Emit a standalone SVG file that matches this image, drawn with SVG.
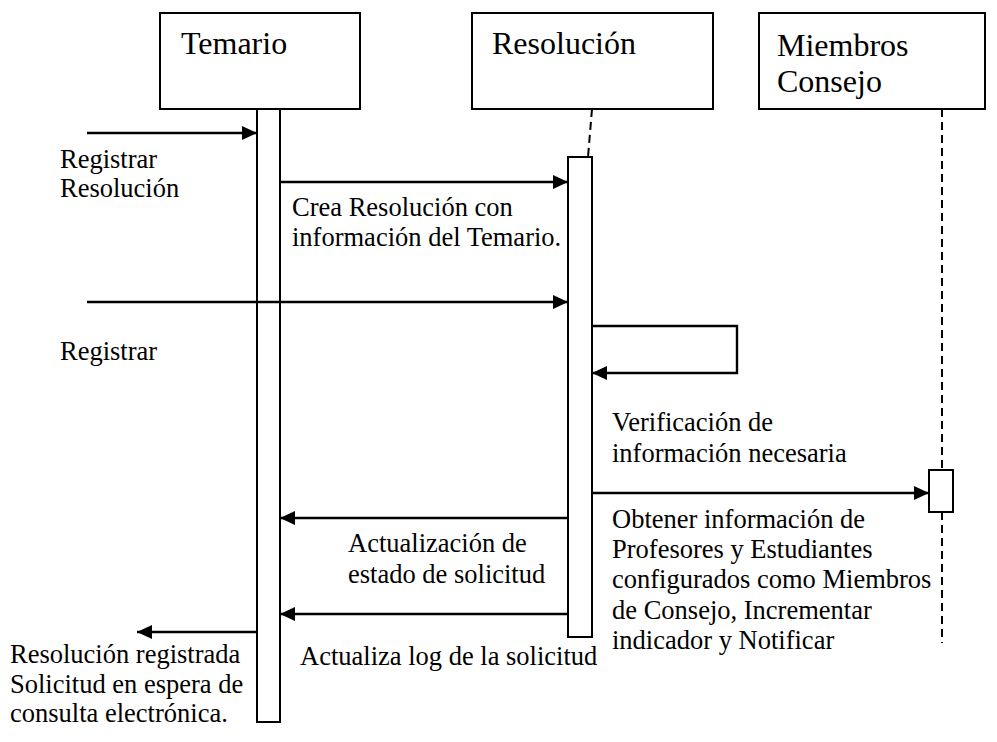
<svg xmlns="http://www.w3.org/2000/svg" width="997" height="742" viewBox="0 0 997 742">
<style>
.box{fill:#fff;stroke:#000;stroke-width:2}
.bar{fill:#fff;stroke:#000;stroke-width:2}
.life{stroke:#000;stroke-width:2;stroke-dasharray:8,5;fill:none}
.msg{stroke:#000;stroke-width:2.4;fill:none}
text{font-family:'Liberation Serif','Times New Roman',Times,serif;fill:#000}
.hd{font-size:32px}
.lb{font-size:26.5px}
</style>
<defs>
<marker id="ah" markerUnits="userSpaceOnUse" markerWidth="15" markerHeight="15" refX="15" refY="7" orient="auto">
<path d="M0,0 L15,7 L0,14 z" fill="#000"/>
</marker>
</defs>
<rect width="997" height="742" fill="#fff"/>
<g id="temario">
<rect class="box" x="160" y="13" width="200" height="96"/>
<text class="hd" x="181" y="54">Temario</text>
<rect class="bar" x="257" y="109" width="23" height="613"/>
</g>
<g id="resolucion">
<rect class="box" x="472" y="13" width="241" height="96"/>
<text class="hd" x="492" y="54">Resolución</text>
<line class="life" x1="592" y1="109" x2="588" y2="157"/>
<rect class="bar" x="568" y="157" width="24" height="480"/>
</g>
<g id="miembros">
<rect class="box" x="759" y="13" width="226" height="96"/>
<text class="hd" x="777" y="56">Miembros</text>
<text class="hd" x="777" y="92">Consejo</text>
<line class="life" x1="942" y1="109" x2="942" y2="470"/>
<rect class="bar" x="929" y="470" width="24" height="42"/>
<line class="life" x1="942" y1="512" x2="942" y2="643"/>
</g>
<g id="connectors">
<line class="msg" x1="87" y1="133" x2="257" y2="133" marker-end="url(#ah)"/>
<line class="msg" x1="280" y1="182" x2="568" y2="182" marker-end="url(#ah)"/>
<line class="msg" x1="87" y1="302" x2="568" y2="302" marker-end="url(#ah)"/>
<polyline class="msg" points="592,326 737,326 737,373 592,373" marker-end="url(#ah)"/>
<line class="msg" x1="592" y1="493" x2="929" y2="493" marker-end="url(#ah)"/>
<line class="msg" x1="568" y1="518" x2="280" y2="518" marker-end="url(#ah)"/>
<line class="msg" x1="568" y1="614" x2="280" y2="614" marker-end="url(#ah)"/>
<line class="msg" x1="257" y1="632" x2="137" y2="632" marker-end="url(#ah)"/>
</g>
<g id="labels">
<text class="lb" x="60" y="168">Registrar</text>
<text class="lb" x="60" y="197">Resolución</text>
<text class="lb" x="292" y="216">Crea Resolución con</text>
<text class="lb" x="292" y="246">información del Temario.</text>
<text class="lb" x="60" y="360">Registrar</text>
<text class="lb" x="612" y="431">Verificación de</text>
<text class="lb" x="612" y="462">información necesaria</text>
<text class="lb" x="612" y="528">Obtener información de</text>
<text class="lb" x="612" y="558">Profesores y Estudiantes</text>
<text class="lb" x="612" y="588">configurados como Miembros</text>
<text class="lb" x="612" y="619">de Consejo, Incrementar</text>
<text class="lb" x="612" y="649">indicador y Notificar</text>
<text class="lb" x="348" y="552">Actualización de</text>
<text class="lb" x="348" y="583">estado de solicitud</text>
<text class="lb" x="300" y="665">Actualiza log de la solicitud</text>
<text class="lb" x="10" y="663">Resolución registrada</text>
<text class="lb" x="10" y="693">Solicitud en espera de</text>
<text class="lb" x="10" y="722">consulta electrónica.</text>
</g>
</svg>
